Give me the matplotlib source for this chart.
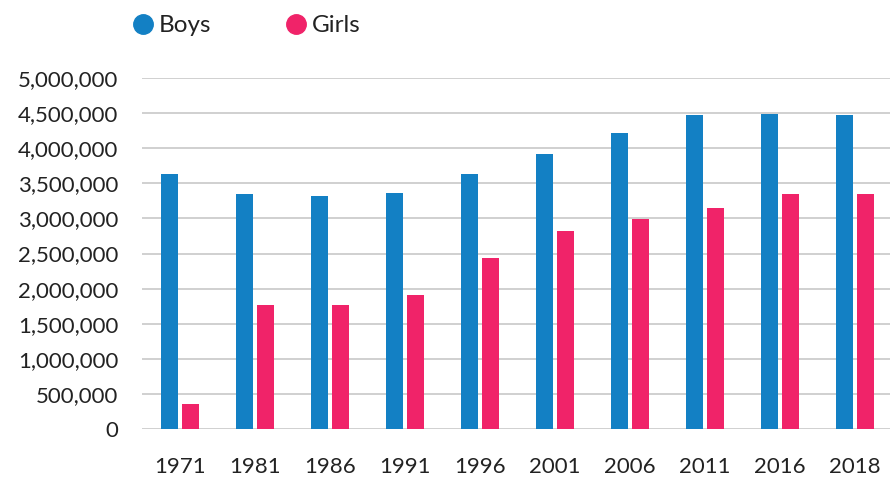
import numpy as np
import matplotlib.pyplot as plt
from matplotlib.ticker import FuncFormatter
from matplotlib.lines import Line2D

# data
years = ['1971', '1981', '1986', '1991', '1996', '2001', '2006', '2011', '2016', '2018']
boys = [3632000, 3348000, 3319000, 3362000, 3632000, 3917000, 4217000, 4473000, 4487000, 4473000]
girls = [356000, 1766000, 1766000, 1909000, 2436000, 2821000, 2991000, 3148000, 3348000, 3348000]

BLUE = '#1380C4'
PINK = '#F02369'

plt.rcParams['font.family'] = ['Lato', 'DejaVu Sans']

fig = plt.figure(figsize=(8.9, 4.78), dpi=100)
ax = fig.add_axes([0.1596, 0.1025, 0.843, 0.7343])

x = np.arange(len(years))
w = 0.227
ax.bar(x - 0.14, boys, width=w, color=BLUE, zorder=3)
ax.bar(x + 0.14, girls, width=w, color=PINK, zorder=3)

ax.set_xlim(-0.5, len(years) - 0.5)
ax.set_ylim(0, 5000000)
ax.set_yticks(np.arange(0, 5000001, 500000))
ax.yaxis.set_major_formatter(FuncFormatter(lambda v, p: f'{int(v):,}'))
ax.set_xticks(x)
ax.set_xticklabels(years)

ax.grid(axis='y', color='#C8C8C8', linewidth=1.2, zorder=0)
for s in ax.spines.values():
    s.set_visible(False)
ax.tick_params(axis='both', length=0, labelsize=16, colors='#222222')
ax.tick_params(axis='x', pad=20)
ax.tick_params(axis='y', pad=17)

handles = [Line2D([], [], marker='o', linestyle='none', markersize=14, color=BLUE),
           Line2D([], [], marker='o', linestyle='none', markersize=14, color=PINK)]
fig.legend(handles, ['Boys', 'Girls'], loc='center left', bbox_to_anchor=(0.122, 0.946),
           ncol=2, frameon=False, fontsize=17.5, handletextpad=0.15, columnspacing=3.0,
           handlelength=1.0, labelcolor='#222222')

fig.savefig('out.png', dpi=100)
